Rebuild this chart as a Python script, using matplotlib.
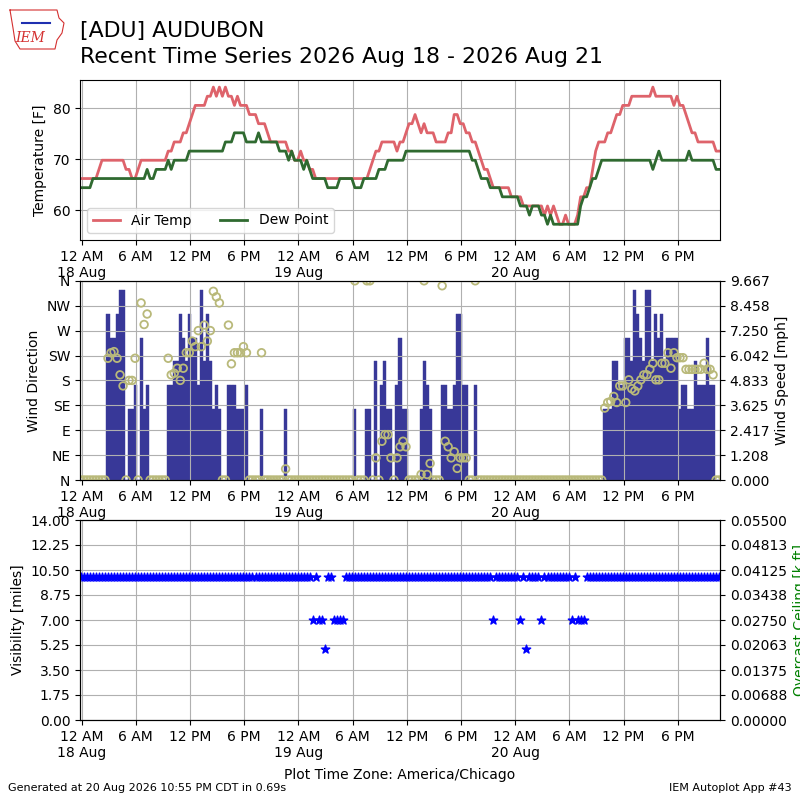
import numpy as np
import pandas as pd
import matplotlib
matplotlib.use("Agg")
import matplotlib.pyplot as plt
import matplotlib.dates as mdates
from matplotlib.ticker import FuncFormatter, FixedLocator
from matplotlib.lines import Line2D

# ---------------- data ----------------
first_obs = "2026-08-17 23:55"
obs_step = "20min"
n_obs = 213

tmpf = [
    66.2, 66.2, 66.2, 66.2, 66.2, 66.2, 68.0, 69.8, 69.8, 69.8, 69.8, 69.8,
    69.8, 69.8, 69.8, 68.0, 68.0, 66.2, 66.2, 68.0, 69.8, 69.8, 69.8, 69.8,
    69.8, 69.8, 69.8, 69.8, 69.8, 71.6, 71.6, 73.4, 73.4, 73.4, 75.2, 75.2,
    77.0, 78.8, 80.6, 80.6, 80.6, 80.6, 82.4, 82.4, 84.2, 82.4, 84.2, 82.4,
    84.2, 82.4, 82.4, 80.6, 82.4, 80.6, 80.6, 80.6, 78.8, 78.8, 78.8, 77.0,
    77.0, 77.0, 75.2, 73.4, 73.4, 73.4, 73.4, 73.4, 73.4, 71.6, 71.6, 69.8,
    69.8, 71.6, 69.8, 69.8, 68.0, 68.0, 66.2, 66.2, 66.2, 66.2, 66.2, 66.2,
    66.2, 66.2, 66.2, 66.2, 66.2, 66.2, 66.2, 66.2, 66.2, 66.2, 66.2, 66.2,
    68.0, 69.8, 71.6, 71.6, 73.4, 73.4, 73.4, 73.4, 73.4, 71.6, 73.4, 73.4,
    75.2, 77.0, 77.0, 78.8, 77.0, 75.2, 77.0, 75.2, 75.2, 75.2, 73.4, 73.4,
    73.4, 73.4, 75.2, 75.2, 78.8, 78.8, 77.0, 77.0, 75.2, 75.2, 73.4, 73.4,
    71.6, 69.8, 68.0, 68.0, 66.2, 64.4, 64.4, 64.4, 64.4, 64.4, 64.4, 62.6,
    62.6, 62.6, 62.6, 60.8, 60.8, 60.8, 60.8, 60.8, 60.8, 60.8, 59.0, 60.8,
    59.0, 60.8, 59.0, 57.2, 57.2, 59.0, 57.2, 57.2, 57.2, 59.0, 62.6, 62.6,
    64.4, 64.4, 68.0, 71.6, 73.4, 73.4, 73.4, 75.2, 75.2, 77.0, 78.8, 78.8,
    80.6, 80.6, 80.6, 82.4, 82.4, 82.4, 82.4, 82.4, 82.4, 82.4, 84.2, 82.4,
    82.4, 82.4, 82.4, 82.4, 82.4, 80.6, 82.4, 80.6, 80.6, 78.8, 77.0, 75.2,
    75.2, 73.4, 73.4, 73.4, 73.4, 73.4, 73.4, 71.6, 71.6,
]

dwpf = [
    64.4, 64.4, 64.4, 64.4, 66.2, 66.2, 66.2, 66.2, 66.2, 66.2, 66.2, 66.2,
    66.2, 66.2, 66.2, 66.2, 66.2, 66.2, 66.2, 66.2, 66.2, 66.2, 68.0, 66.2,
    66.2, 68.0, 68.0, 68.0, 68.0, 69.8, 68.0, 69.8, 69.8, 69.8, 69.8, 69.8,
    71.6, 71.6, 71.6, 71.6, 71.6, 71.6, 71.6, 71.6, 71.6, 71.6, 71.6, 71.6,
    73.4, 73.4, 73.4, 75.2, 75.2, 75.2, 75.2, 73.4, 73.4, 73.4, 73.4, 75.2,
    73.4, 73.4, 73.4, 73.4, 73.4, 73.4, 71.6, 71.6, 71.6, 69.8, 71.6, 69.8,
    69.8, 69.8, 68.0, 69.8, 68.0, 66.2, 66.2, 66.2, 66.2, 66.2, 64.4, 64.4,
    64.4, 64.4, 66.2, 66.2, 66.2, 66.2, 66.2, 64.4, 64.4, 64.4, 66.2, 66.2,
    66.2, 66.2, 66.2, 68.0, 68.0, 68.0, 69.8, 69.8, 69.8, 69.8, 69.8, 69.8,
    71.6, 71.6, 71.6, 71.6, 71.6, 71.6, 71.6, 71.6, 71.6, 71.6, 71.6, 71.6,
    71.6, 71.6, 71.6, 71.6, 71.6, 71.6, 71.6, 71.6, 71.6, 71.6, 69.8, 69.8,
    68.0, 66.2, 66.2, 66.2, 64.4, 64.4, 64.4, 64.4, 62.6, 62.6, 62.6, 62.6,
    62.6, 62.6, 60.8, 60.8, 60.8, 59.0, 60.8, 60.8, 60.8, 59.0, 59.0, 57.2,
    59.0, 57.2, 57.2, 57.2, 57.2, 57.2, 57.2, 57.2, 57.2, 57.2, 60.8, 62.6,
    62.6, 64.4, 66.2, 66.2, 68.0, 69.8, 69.8, 69.8, 69.8, 69.8, 69.8, 69.8,
    69.8, 69.8, 69.8, 69.8, 69.8, 69.8, 69.8, 69.8, 69.8, 69.8, 68.0, 69.8,
    71.6, 69.8, 69.8, 69.8, 69.8, 69.8, 69.8, 69.8, 69.8, 69.8, 71.6, 69.8,
    69.8, 69.8, 69.8, 69.8, 69.8, 69.8, 69.8, 68.0, 68.0,
]

# wind speed [knots]
sknt = [
    0, 0, 0, 0, 0, 0, 0, 0, 0, 7, 6, 6,
    7, 8, 8, 0, 3, 3, 4, 0, 6, 3, 4, 0,
    0, 0, 0, 0, 0, 4, 4, 5, 5, 7, 6, 5,
    7, 6, 6, 4, 8, 5, 7, 5, 3, 4, 3, 0,
    0, 4, 4, 4, 3, 3, 3, 4, 0, 0, 0, 0,
    3, 0, 0, 0, 0, 0, 0, 0, 3, 0, 0, 0,
    0, 0, 0, 0, 0, 0, 0, 0, 0, 0, 0, 0,
    0, 0, 0, 0, 0, 0, 0, 3, 0, 0, 0, 3,
    3, 0, 5, 0, 4, 5, 3, 3, 0, 4, 6, 3,
    3, 0, 0, 0, 0, 3, 5, 4, 3, 0, 0, 0,
    4, 4, 3, 3, 4, 7, 7, 4, 4, 0, 0, 4,
    0, 0, 0, 0, 0, 0, 0, 0, 0, 0, 0, 0,
    0, 0, 0, 0, 0, 0, 0, 0, 0, 0, 0, 0,
    0, 0, 0, 0, 0, 0, 0, 0, 0, 0, 0, 0,
    0, 0, 0, 0, 0, 0, 3, 3, 3, 5, 5, 4,
    4, 6, 6, 5, 8, 7, 6, 5, 8, 8, 5, 7,
    6, 7, 5, 6, 6, 6, 6, 3, 4, 4, 3, 3,
    5, 4, 4, 4, 6, 4, 4, 0, 0,
]

# wind direction [deg], 0 = calm
drct = [
    0, 0, 0, 0, 0, 0, 0, 0, 0, 220, 230, 232,
    220, 190, 170, 0, 180, 180, 220, 0, 320, 281, 300, 0,
    0, 0, 0, 0, 0, 220, 190, 193, 202, 180, 202, 230,
    230, 251, 241, 270, 241, 280, 251, 270, 341, 331, 320, 0,
    0, 280, 210, 230, 230, 230, 241, 230, 0, 0, 0, 0,
    230, 0, 0, 0, 0, 0, 0, 0, 20, 0, 0, 0,
    0, 0, 0, 0, 0, 0, 0, 0, 0, 0, 0, 0,
    0, 0, 0, 0, 0, 0, 0, 360, 0, 0, 0, 360,
    360, 0, 40, 0, 70, 82, 82, 40, 0, 40, 60, 70,
    60, 0, 0, 0, 0, 10, 360, 10, 30, 0, 0, 0,
    351, 70, 60, 40, 51, 21, 40, 40, 40, 0, 0, 360,
    0, 0, 0, 0, 0, 0, 0, 0, 0, 0, 0, 0,
    0, 0, 0, 0, 0, 0, 0, 0, 0, 0, 0, 0,
    0, 0, 0, 0, 0, 0, 0, 0, 0, 0, 0, 0,
    0, 0, 0, 0, 0, 0, 130, 140, 142, 151, 140, 170,
    170, 140, 181, 165, 161, 170, 181, 190, 190, 200, 211, 181,
    181, 211, 211, 230, 202, 230, 221, 221, 221, 200, 200, 200,
    200, 200, 200, 211, 200, 200, 190, 0, 0,
]

# visibility [miles]
vsby = [
    10, 10, 10, 10, 10, 10, 10, 10, 10, 10, 10, 10,
    10, 10, 10, 10, 10, 10, 10, 10, 10, 10, 10, 10,
    10, 10, 10, 10, 10, 10, 10, 10, 10, 10, 10, 10,
    10, 10, 10, 10, 10, 10, 10, 10, 10, 10, 10, 10,
    10, 10, 10, 10, 10, 10, 10, 10, 10, 10, 10, 10,
    10, 10, 10, 10, 10, 10, 10, 10, 10, 10, 10, 10,
    10, 10, 10, 10, 10, 7, 10, 7, 7, 5, 10, 10,
    7, 7, 7, 7, 10, 10, 10, 10, 10, 10, 10, 10,
    10, 10, 10, 10, 10, 10, 10, 10, 10, 10, 10, 10,
    10, 10, 10, 10, 10, 10, 10, 10, 10, 10, 10, 10,
    10, 10, 10, 10, 10, 10, 10, 10, 10, 10, 10, 10,
    10, 10, 10, 10, 10, 7, 10, 10, 10, 10, 10, 10,
    10, 10, 7, 10, 5, 10, 10, 10, 10, 7, 10, 10,
    10, 10, 10, 10, 10, 10, 10, 7, 10, 7, 7, 7,
    10, 10, 10, 10, 10, 10, 10, 10, 10, 10, 10, 10,
    10, 10, 10, 10, 10, 10, 10, 10, 10, 10, 10, 10,
    10, 10, 10, 10, 10, 10, 10, 10, 10, 10, 10, 10,
    10, 10, 10, 10, 10, 10, 10, 10, 10,
]

dir_labels = ["N", "NE", "E", "SE", "S", "SW", "W", "NW", "N"]
title1 = "[ADU] AUDUBON"
title2 = "Recent Time Series 2026 Aug 18 - 2026 Aug 21"
footer_left = "Generated at 20 Aug 2026 10:55 PM CDT in 0.69s"
footer_right = "IEM Autoplot App #43"

# ---------------- plotting ----------------
valid = list(pd.date_range(first_obs, periods=n_obs, freq=obs_step).to_pydatetime())
assert len(tmpf) == len(dwpf) == len(sknt) == len(drct) == len(vsby) == n_obs

smph = np.array(sknt) * 1.150779

fig = plt.figure(figsize=(8, 8), dpi=100)
ax1 = fig.add_axes([0.1, 0.7, 0.8, 0.2])
ax2 = fig.add_axes([0.1, 0.4, 0.8, 0.249])
ax3 = fig.add_axes([0.1, 0.1, 0.8, 0.25])

xmin = valid[0] - pd.Timedelta("6min")
xmax = valid[-1] + pd.Timedelta("6min")


def tfmt(x, pos=None):
    d = mdates.num2date(x)
    h = d.hour
    if h == 0:
        s = "12 AM"
    elif h == 12:
        s = "12 PM"
    elif h < 12:
        s = "%d AM" % h
    else:
        s = "%d PM" % (h - 12)
    if h == 0:
        s += "\n%d %s" % (d.day, d.strftime("%b"))
    return s


for ax in (ax1, ax2, ax3):
    ax.set_xlim(xmin, xmax)
    ax.xaxis.set_major_locator(mdates.HourLocator(byhour=[0, 6, 12, 18]))
    ax.xaxis.set_major_formatter(FuncFormatter(tfmt))

# Panel 1: temperatures
ax1.plot(valid, tmpf, color="#de636b", lw=2, label="Air Temp")
ax1.plot(valid, dwpf, color="#2f6a30", lw=2, label="Dew Point")
ax1.set_ylim(54.1, 85.6)
ax1.set_yticks([60, 70, 80])
ax1.set_ylabel("Temperature [F]")
ax1.grid(True)
ax1.legend(loc="lower left", ncol=2)

# Panel 2: wind speed bars (right axis) + direction circles (left axis)
axd = ax2.twinx()
ax2.bar(valid, smph, width=20 / 1440.0, color="#383898", ec="#383898", lw=0.3)
smax = smph.max() * 1.05
ax2.set_ylim(0, smax)
ax2.yaxis.set_major_locator(FixedLocator(np.linspace(0, smax, 9)))
ax2.yaxis.set_major_formatter(FuncFormatter(lambda v, p: "%.3f" % v))
ax2.set_axisbelow(False)
ax2.grid(True)
ax2.yaxis.tick_right()
ax2.yaxis.set_label_position("right")
ax2.set_ylabel("Wind Speed [mph]")

axd.yaxis.tick_left()
axd.yaxis.set_label_position("left")
axd.scatter(valid, drct, s=30, facecolors="none", edgecolors="#b9b97a", linewidths=1.3)
axd.set_ylim(0, 360)
axd.set_yticks(np.arange(0, 361, 45))
axd.set_yticklabels(dir_labels)
axd.set_ylabel("Wind Direction")
axd.set_xlim(xmin, xmax)

# Panel 3: visibility
ax3.scatter(valid, vsby, marker="*", s=40, color="b", zorder=3)
ax3.set_ylim(0, 14)
ax3.yaxis.set_major_locator(FixedLocator(np.linspace(0, 14, 9)))
ax3.yaxis.set_major_formatter(FuncFormatter(lambda v, p: "%.2f" % v))
ax3.set_ylabel("Visibility [miles]")
ax3.grid(True)
ax3.set_xlabel("Plot Time Zone: America/Chicago", labelpad=6)

axc = ax3.twinx()
axc.set_ylim(0, 0.055)
axc.yaxis.set_major_locator(FixedLocator(np.linspace(0, 0.055, 9)))
axc.yaxis.set_major_formatter(FuncFormatter(lambda v, p: "%.5f" % v))
axc.set_ylabel("Overcast Ceiling [k ft]", color="g")
axc.set_xlim(xmin, xmax)

# Titles & footer
fig.text(0.1, 1 - 36.5 / 800, title1, fontsize=15.8, va="baseline", ha="left")
fig.text(0.1, 1 - 63.3 / 800, title2, fontsize=15.8, va="baseline", ha="left")
fig.text(0.01, 0.015, footer_left, fontsize=8, va="center", ha="left")
fig.text(0.99, 0.015, footer_right, fontsize=8, va="center", ha="right")

# Simple IEM logo
px = np.array([10, 57, 59, 64, 62, 57, 55, 20, 15, 13, 10])
py = np.array([10, 10, 18, 23, 33, 40, 49, 49, 41, 28, 10])
fig.add_artist(Line2D(px / 800.0, 1 - py / 800.0, transform=fig.transFigure,
                      color="#d43030", lw=0.8))
fig.add_artist(Line2D(np.array([22, 50]) / 800.0, 1 - np.array([23, 23]) / 800.0,
                      transform=fig.transFigure, color="#1f2fb0", lw=1.5))
fig.text(30 / 800.0, 1 - 38.5 / 800.0, "IEM", fontsize=10, color="#d43030",
         style="italic", family="serif", ha="center", va="center")

fig.savefig("out.png", dpi=100)
